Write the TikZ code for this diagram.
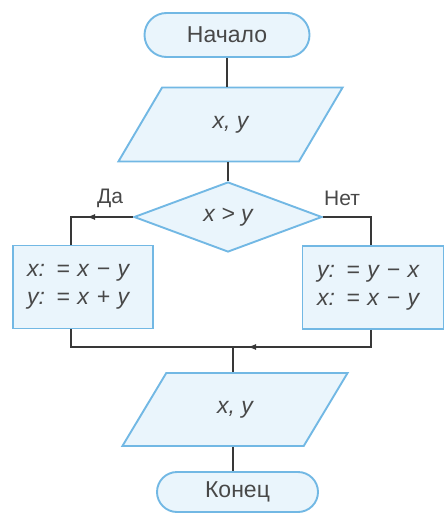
\documentclass[tikz,border=0pt]{standalone}
\usepackage{fontspec}
\setmainfont{Liberation Sans}
\usetikzlibrary{shapes.geometric,shapes.misc,arrows.meta,decorations.markings}
\definecolor{bord}{HTML}{72B8E4}
\definecolor{fil}{HTML}{EAF5FC}
\definecolor{lin}{HTML}{383838}
\definecolor{txt}{HTML}{484848}
\tikzset{
  base/.style={draw=bord, fill=fil, line width=1.9pt, text=txt, font=\fontsize{23}{28}\selectfont, inner sep=0pt},
  term/.style={base, rounded rectangle, minimum width=#1, minimum height=44pt},
  io/.style={base, trapezium, trapezium stretches=true, trapezium left angle=56, trapezium right angle=124, minimum width=225pt, minimum height=74pt},
  cond/.style={base, diamond, aspect=2.7, minimum width=188pt, minimum height=70pt},
  proc/.style={base, rectangle, minimum width=140pt, minimum height=83pt, align=left, text width=112pt},
  conn/.style={draw=lin, line width=2pt},
  lab/.style={text=txt, font=\fontsize{21}{24}\selectfont},
  arrowat/.style={postaction={decorate}, decoration={markings, mark=at position #1 with {\arrow{Latex[length=9pt,width=6pt]}}}}
}
\begin{document}
\begin{tikzpicture}[x=1pt,y=-1pt]
\useasboundingbox (0,0) rectangle (444,513);
\node[term=165pt] (start) at (227,35) {Начало};
\node[io] (in1) at (230.5,124.5) {\itshape x, y};
\node[cond] (dia) at (228,217) {\itshape x > y};
\node[proc] (lbox) at (83,287) {\itshape x: = x − y\\\itshape y: = x + y};
\node[proc, minimum width=141pt] (rbox) at (373,287.5) {\itshape y: = y − x\\\itshape x: = x − y};
\node[io, minimum width=226pt, minimum height=73pt] (in2) at (235,409.5) {\itshape x, y};
\node[term=161pt, minimum height=40pt] (end) at (237.5,492) {Конец};
\node[lab] (da) at (110,198) {Да};
\node[lab] (net) at (342,198) {Нет};
\coordinate (lt) at ([xshift=59pt]lbox.north west);
\coordinate (lb) at ([xshift=59pt]lbox.south west);
\coordinate (rt) at ([xshift=-2pt]rbox.north);
\coordinate (rb) at ([xshift=-2pt]rbox.south);
\coordinate (m) at (233,347);
\draw[conn] (start.south) -- (start.south |- in1.north);
\draw[conn] (dia.north) -- (dia.north |- in1.south);
\draw[conn, arrowat=47pt] (dia.west) -| (lt);
\draw[conn] (dia.east) -| (rt);
\draw[conn] (lb) |- (m);
\draw[conn, arrowat=141pt] (rb) |- (m);
\draw[conn] (m) -- (m |- in2.north);
\draw[conn] (m |- in2.south) -- (m |- end.north);
\end{tikzpicture}
\end{document}
